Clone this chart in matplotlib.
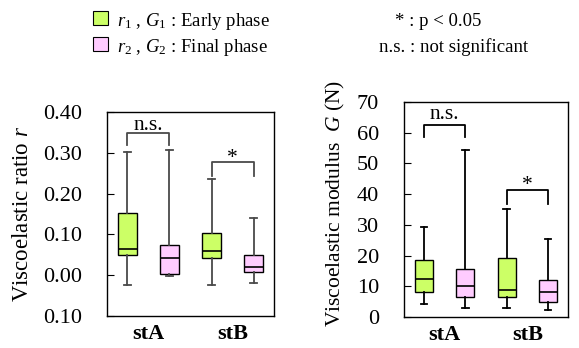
import matplotlib
matplotlib.use("Agg")
from matplotlib import pyplot as plt
from matplotlib.patches import Rectangle
import numpy as np

plt.rcParams["font.family"] = ["Liberation Serif", "DejaVu Serif"]
plt.rcParams["mathtext.fontset"] = "custom"
plt.rcParams["mathtext.rm"] = "Liberation Serif"
plt.rcParams["mathtext.it"] = "Liberation Serif:italic"

# box order: stA early, stA final, stB early, stB final
groups = ["stA", "stB"]
phase_colors = ["#ccff66", "#ffccff"]

r_whislo = [-0.024, -0.003, -0.025, -0.020]
r_q1 = [0.049, 0.002, 0.043, 0.007]
r_med = [0.065, 0.043, 0.059, 0.020]
r_q3 = [0.152, 0.074, 0.104, 0.049]
r_whishi = [0.302, 0.308, 0.236, 0.140]

g_whislo = [4.1, 3.0, 3.0, 2.4]
g_q1 = [8.3, 6.6, 6.4, 5.0]
g_med = [12.4, 10.1, 8.8, 8.2]
g_q3 = [18.5, 15.5, 19.1, 12.1]
g_whishi = [29.2, 54.5, 35.1, 25.4]

# significance brackets: (left box, right box, bar height, leg bottom, label, label y, label va)
r_brackets = [(1, 2, 0.349, 0.320, "n.s.", 0.357, "baseline"),
              (3, 4, 0.277, 0.243, "*", 0.310, "top")]
g_brackets = [(1, 2, 62.5, 58.6, "n.s.", 64.5, "baseline"),
              (3, 4, 41.2, 36.8, "*", 46.0, "top")]

r_ticks = [-0.1, 0.0, 0.1, 0.2, 0.3, 0.4]
r_ticklabels = ["0.10", "0.00", "0.10", "0.20", "0.30", "0.40"]
g_ticks = [0, 10, 20, 30, 40, 50, 60, 70]

positions = [1, 2, 3, 4]


def draw_panel(ax, lo, q1, med, q3, hi, brackets, line_color):
    stats = []
    for i in range(4):
        stats.append(dict(whislo=lo[i], q1=q1[i], med=med[i], q3=q3[i],
                          whishi=hi[i], fliers=[]))
    bp = ax.bxp(stats, positions=positions, widths=0.44, patch_artist=True,
                showfliers=False, capwidths=0.16,
                whiskerprops=dict(color=line_color, lw=1.3),
                capprops=dict(color=line_color, lw=1.3),
                boxprops=dict(edgecolor="black", lw=1.0),
                medianprops=dict(color="black", lw=1.2))
    for i, patch in enumerate(bp["boxes"]):
        patch.set_facecolor(phase_colors[i % 2])
    for a, b, top, leg, txt, ty, va in brackets:
        ax.plot([a, a, b, b], [leg, top, top, leg], color=line_color, lw=1.3)
        ax.text((a + b) / 2, ty, txt, ha="center", va=va, fontsize=15.5)
    ax.set_xlim(0.52, 4.48)
    ax.set_xticks([1.5, 3.5])
    ax.set_xticklabels(groups, fontweight="bold", fontsize=16)
    ax.tick_params(axis="x", length=0, pad=6)
    ax.tick_params(axis="y", direction="in", length=5, labelsize=16, pad=18)
    for s in ax.spines.values():
        s.set_linewidth(1.0)


fig = plt.figure(figsize=(5.79, 3.48), dpi=100)

ax1 = fig.add_axes([107 / 579, 32 / 348, 167 / 579, 204 / 348])
draw_panel(ax1, r_whislo, r_q1, r_med, r_q3, r_whishi, r_brackets, "#4a4a4a")
ax1.set_ylim(-0.1, 0.4)
ax1.set_yticks(r_ticks)
ax1.set_yticklabels(r_ticklabels)
ax1.set_ylabel("Viscoelastic ratio $r$", fontsize=16.5)
ax1.yaxis.set_label_coords(-0.445, 0.5)

ax2 = fig.add_axes([404 / 579, 31 / 348, 164 / 579, 215 / 348])
draw_panel(ax2, g_whislo, g_q1, g_med, g_q3, g_whishi, g_brackets, "black")
ax2.set_ylim(0, 70)
ax2.set_yticks(g_ticks)
ax2.set_ylabel("Viscoelastic modulus  $G$ (N)", fontsize=15.5)
ax2.yaxis.set_label_coords(-0.35, 0.53)

# legend block at the top
legend_labels = ["$r_1$ , $G_1$ : Early phase", "$r_2$ , $G_2$ : Final phase"]
note_labels = ["* : p < 0.05", "n.s. : not significant"]
note_x = [395, 379]
row_base = [26, 52]
for i in range(2):
    y0 = row_base[i] - 1
    fig.patches.append(Rectangle((93 / 579, 1 - y0 / 348), 15 / 579, 14 / 348,
                                 transform=fig.transFigure, facecolor=phase_colors[i],
                                 edgecolor="black", lw=0.8))
    fig.text(117 / 579, 1 - row_base[i] / 348, legend_labels[i], fontsize=13.5,
             va="baseline", ha="left")
    fig.text(note_x[i] / 579, 1 - row_base[i] / 348, note_labels[i], fontsize=13.5,
             va="baseline", ha="left")

fig.savefig("out.png", dpi=100)
